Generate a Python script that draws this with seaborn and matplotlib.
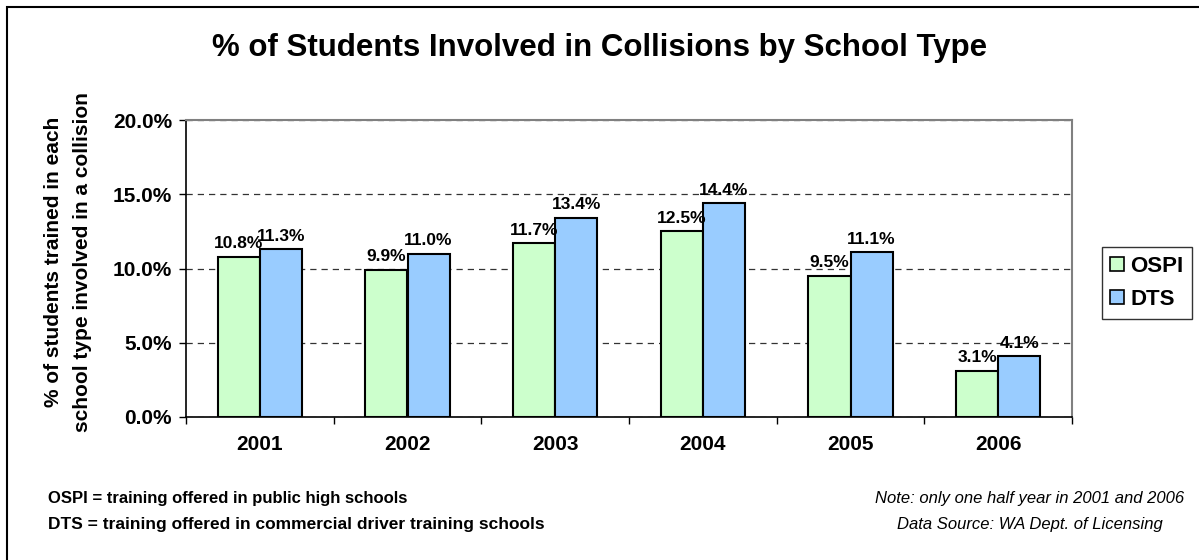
import numpy as np
import pandas as pd
import seaborn as sns
import matplotlib.pyplot as plt
from matplotlib.patches import Rectangle
from matplotlib.ticker import FuncFormatter, FixedLocator

# data
years = ["2001", "2002", "2003", "2004", "2005", "2006"]
ospi = [10.8, 9.9, 11.7, 12.5, 9.5, 3.1]
dts = [11.3, 11.0, 13.4, 14.4, 11.1, 4.1]
school_types = ["OSPI", "DTS"]
colors = ["#CCFFCC", "#99CCFF"]

df = pd.DataFrame({
    "Year": years * 2,
    "Value": ospi + dts,
    "Type": ["OSPI"] * len(years) + ["DTS"] * len(years),
})

sns.set_theme(style="white")
plt.rcParams['font.family'] = ['Liberation Sans', 'DejaVu Sans']
plt.rcParams['text.color'] = 'black'
plt.rcParams['axes.labelcolor'] = 'black'
plt.rcParams['xtick.color'] = 'black'
plt.rcParams['ytick.color'] = 'black'

fig = plt.figure(figsize=(11.99, 5.6), dpi=100)
ax = fig.add_axes([186 / 1199, 1 - 417 / 560, 886 / 1199, 297 / 560])

sns.barplot(data=df, x="Year", y="Value", hue="Type", hue_order=school_types,
            palette=colors, width=0.57, edgecolor="black", linewidth=1.5,
            saturation=1, ax=ax, legend=False)

# data labels
for cont in ax.containers:
    ax.bar_label(cont, fmt="%.1f%%", padding=4, fontsize=12.5, fontweight="bold",
                 color="black")

# y axis
ax.set_ylim(0, 20)
ax.set_yticks([0, 5, 10, 15, 20])
ax.yaxis.set_major_formatter(FuncFormatter(lambda v, p: f"{v:.1f}%"))
ax.set_xlim(-0.5, 5.5)
ax.yaxis.grid(True, linestyle=(0, (5, 4)), color="#333333", linewidth=0.9)
ax.set_axisbelow(True)

# ticks
ax.tick_params(axis="y", which="major", direction="out", length=5, width=1,
               color="black", left=True, labelsize=15, pad=5)
ax.tick_params(axis="x", which="major", length=0, labelsize=15, pad=13)
ax.xaxis.set_minor_locator(FixedLocator(np.arange(-0.5, 6, 1)))
ax.tick_params(axis="x", which="minor", direction="out", length=5, width=1,
               color="black", bottom=True)
for lab in ax.get_xticklabels() + ax.get_yticklabels():
    lab.set_fontweight("bold")

# spines
for side in ["left", "bottom"]:
    ax.spines[side].set_color("black")
    ax.spines[side].set_linewidth(1.2)
for side in ["top", "right"]:
    ax.spines[side].set_color("#808080")
    ax.spines[side].set_linewidth(1.5)

ax.set_xlabel("")
ax.set_ylabel("% of students trained in each\nschool type involved in a collision",
              fontsize=15, fontweight="bold", linespacing=1.65, va="center")
ax.yaxis.set_label_coords((68 - 186) / 886, (417 - 262) / 297)

# title
fig.text(0.5, 1 - 48 / 560, "% of Students Involved in Collisions by School Type",
         ha="center", va="center", fontsize=22.5, fontweight="bold")

# legend
handles = [Rectangle((0, 0), 1, 1, facecolor=c, edgecolor="black", linewidth=1.2)
           for c in colors]
fig.legend(handles, school_types, loc="center",
           bbox_to_anchor=(1147 / 1199, 1 - 283 / 560),
           frameon=True, fancybox=False, edgecolor="black",
           prop={"weight": "bold", "size": 16},
           handlelength=0.6, handleheight=0.6, handletextpad=0.3,
           labelspacing=0.55, borderpad=0.4,
           borderaxespad=0).get_frame().set_linewidth(1)

# footnotes
fig.text(48 / 1199, 1 - 498 / 560, "OSPI = training offered in public high schools",
         ha="left", va="center", fontsize=12, fontweight="bold")
fig.text(48 / 1199, 1 - 525 / 560,
         "DTS = training offered in commercial driver training schools",
         ha="left", va="center", fontsize=12.5, fontweight="bold")
fig.text(1030 / 1199, 1 - 498 / 560, "Note: only one half year in 2001 and 2006",
         ha="center", va="center", fontsize=12, style="italic")
fig.text(1030 / 1199, 1 - 525 / 560, "Data Source: WA Dept. of Licensing",
         ha="center", va="center", fontsize=12, style="italic")

# outer border
fig.patches.append(Rectangle((7 / 1199, -0.05), 1.2, (553 / 560) + 0.05,
                             transform=fig.transFigure, fill=False,
                             edgecolor="black", linewidth=1.5, clip_on=False))

fig.savefig("out.png", dpi=100)
